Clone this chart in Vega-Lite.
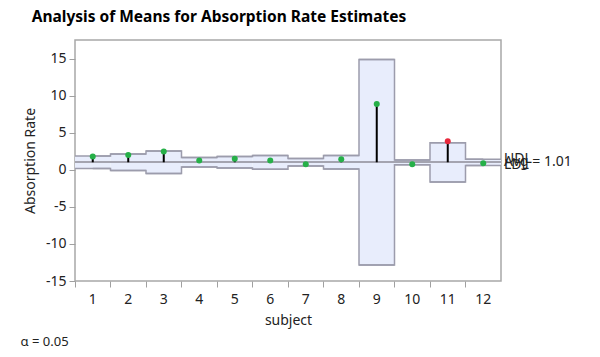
{
  "$schema": "https://vega.github.io/schema/vega-lite/v6.json",
  "background": "white",
  "padding": {"left": 19, "top": 9, "right": 5, "bottom": 5},
  "title": {"text": "Analysis of Means for Absorption Rate Estimates", "anchor": "start", "fontSize": 15.5, "fontWeight": "bold", "font": "Noto Sans", "color": "black", "dx": 12, "offset": 14},
  "vconcat": [
    {
      "width": 426,
      "height": 241,
      "title": {"text": "α = 0.05", "orient": "bottom", "anchor": "start", "fontSize": 13, "fontWeight": "normal", "font": "Noto Sans", "color": "#222222", "offset": 9, "dx": -3},
      "data": {"values": [
        {"subject": 1, "mean": 1.80, "udl": 1.85, "ldl": 0.17, "status": "in"},
        {"subject": 2, "mean": 2.00, "udl": 2.13, "ldl": -0.11, "status": "in"},
        {"subject": 3, "mean": 2.45, "udl": 2.52, "ldl": -0.50, "status": "in"},
        {"subject": 4, "mean": 1.26, "udl": 1.66, "ldl": 0.36, "status": "in"},
        {"subject": 5, "mean": 1.50, "udl": 1.79, "ldl": 0.23, "status": "in"},
        {"subject": 6, "mean": 1.24, "udl": 1.94, "ldl": 0.08, "status": "in"},
        {"subject": 7, "mean": 0.74, "udl": 1.52, "ldl": 0.50, "status": "in"},
        {"subject": 8, "mean": 1.41, "udl": 1.91, "ldl": 0.11, "status": "in"},
        {"subject": 9, "mean": 8.87, "udl": 14.86, "ldl": -12.84, "status": "in"},
        {"subject": 10, "mean": 0.74, "udl": 1.33, "ldl": 0.69, "status": "in"},
        {"subject": 11, "mean": 3.86, "udl": 3.66, "ldl": -1.64, "status": "out"},
        {"subject": 12, "mean": 0.88, "udl": 1.43, "ldl": 0.59, "status": "in"}
      ]},
      "encoding": {
        "x": {"field": "subject", "type": "ordinal", "scale": {"paddingInner": 0, "paddingOuter": 0},
          "axis": {"title": "subject", "labelAngle": 0, "bandPosition": 0, "tickSize": 6, "labelPadding": 5, "titlePadding": 7, "domain": false}}
      },
      "layer": [
        {"mark": {"type": "rect", "fill": "#e8edfc", "strokeWidth": 0},
         "encoding": {
           "y": {"field": "ldl", "type": "quantitative", "scale": {"domain": [-15, 17.5], "nice": false, "zero": false},
             "axis": {"title": "Absorption Rate", "grid": false, "domain": false, "values": [-15, -12.5, -10, -7.5, -5, -2.5, 0, 2.5, 5, 7.5, 10, 12.5, 15, 17.5],
               "labelExpr": "datum.value % 5 === 0 ? replace(datum.label, '\u2212', '-') : ''",
               "tickSize": {"condition": {"test": "datum.value % 5 === 0", "value": 6}, "value": 3},
               "labelPadding": 3, "titlePadding": 8}},
           "y2": {"field": "udl"}
         }},
        {"mark": {"type": "rect", "fill": null, "stroke": "#9c9cac", "strokeWidth": 1.5},
         "encoding": {"y": {"field": "udl", "type": "quantitative"}, "y2": {"field": "udl"}}},
        {"mark": {"type": "rect", "fill": null, "stroke": "#9c9cac", "strokeWidth": 1.5},
         "encoding": {"y": {"field": "ldl", "type": "quantitative"}, "y2": {"field": "ldl"}}},
        {"mark": {"type": "line", "interpolate": "step", "stroke": "#9c9cac", "strokeWidth": 1.5},
         "encoding": {"y": {"field": "udl", "type": "quantitative"}}},
        {"mark": {"type": "line", "interpolate": "step", "stroke": "#9c9cac", "strokeWidth": 1.5},
         "encoding": {"y": {"field": "ldl", "type": "quantitative"}}},
        {"mark": {"type": "rule", "stroke": "#a4a4b0", "strokeWidth": 1.5},
         "encoding": {"x": null, "y": {"datum": 1.01}}},
        {"mark": {"type": "rule", "stroke": "black", "strokeWidth": 2},
         "encoding": {"y": {"field": "mean", "type": "quantitative"}, "y2": {"datum": 1.01}}},
        {"mark": {"type": "point", "filled": true, "size": 36, "opacity": 1},
         "encoding": {"y": {"field": "mean", "type": "quantitative"},
           "color": {"field": "status", "type": "nominal", "scale": {"domain": ["in", "out"], "range": ["#26b048", "#e8283c"]}, "legend": null}}},
        {"data": {"values": [
           {"label": "UDL", "value": 1.43},
           {"label": "Avg = 1.01", "value": 1.01},
           {"label": "LDL", "value": 0.59}
         ]},
         "mark": {"type": "text", "align": "left", "baseline": "middle", "dx": 3, "fontSize": 14, "font": "Noto Sans", "color": "#222222"},
         "encoding": {"x": {"value": "width"}, "y": {"field": "value", "type": "quantitative"}, "text": {"field": "label"}}}
      ]
    }
  ],
  "config": {
    "view": {"stroke": "#a8a8a8", "strokeWidth": 1.5},
    "axis": {"labelFont": "Noto Sans", "titleFont": "Noto Sans", "labelFontSize": 14, "titleFontSize": 14, "titleFontWeight": "normal", "labelColor": "#222222", "titleColor": "#222222", "tickColor": "#a0a0a0"}
  }
}
